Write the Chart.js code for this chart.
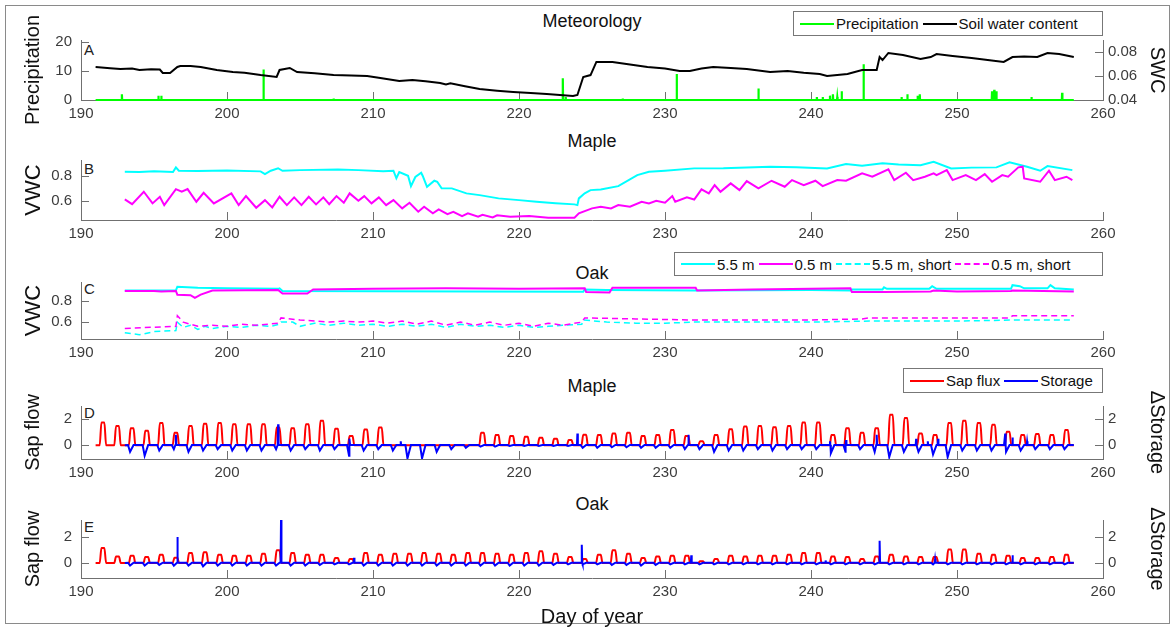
<!DOCTYPE html>
<html>
<head>
<meta charset="utf-8">
<script src="https://cdn.jsdelivr.net/npm/chart.js@4.4.1/dist/chart.umd.min.js"></script>
<style>
  body { margin: 0; background: #fff; width: 1174px; height: 627px; overflow: hidden; position: relative;
         font-family: "Liberation Sans", Arial, sans-serif; }
  #frame { position: absolute; left: 5px; top: 5px; width: 1163px; height: 617px; border: 1px solid #8a8a8a; }
  canvas { position: absolute; left: 0; }
  .ttl { position: absolute; font-size: 18px; color: #111; transform: translateX(-50%); white-space: nowrap; }
  .tag { position: absolute; font-size: 15px; color: #222; }
  .legend { position: absolute; border: 1px solid #777; background: #fff; font-size: 15px; color: #111;
            display: flex; align-items: center; box-sizing: border-box; padding: 0 6px 0 2px; white-space: nowrap; }
  .sw { display: inline-block; width: 34px; height: 0; border-top: 2px solid; margin: 0 2px 0 4px; }
  .sw.dash { border-top-style: dashed; }
</style>
</head>
<body>
<div id="frame"></div>

<div class="ttl" style="left:592px;top:11px">Meteorology</div>
<div class="ttl" style="left:592px;top:131px">Maple</div>
<div class="ttl" style="left:592px;top:263px">Oak</div>
<div class="ttl" style="left:592px;top:376px">Maple</div>
<div class="ttl" style="left:592px;top:494px">Oak</div>

<div class="tag" style="left:84px;top:41px">A</div>
<div class="tag" style="left:84px;top:160px">B</div>
<div class="tag" style="left:84px;top:280px">C</div>
<div class="tag" style="left:84px;top:404px">D</div>
<div class="tag" style="left:84px;top:518px">E</div>

<div class="legend" style="left:793px;top:11px;width:310px;height:25px">
  <span class="sw" style="border-color:#00ff00"></span>Precipitation
  <span class="sw" style="border-color:#000"></span>Soil water content
</div>
<div class="legend" style="left:674px;top:252px;width:429px;height:24px">
  <span class="sw" style="border-color:#00ffff"></span>5.5 m
  <span class="sw" style="border-color:#ff00ff"></span>0.5 m
  <span class="sw dash" style="border-color:#00ffff"></span>5.5 m, short
  <span class="sw dash" style="border-color:#ff00ff"></span>0.5 m, short
</div>
<div class="legend" style="left:903px;top:368px;width:200px;height:25px">
  <span class="sw" style="border-color:#ff0000"></span>Sap flux
  <span class="sw" style="border-color:#0000ff"></span>Storage
</div>

<canvas id="cA"></canvas>
<canvas id="cB"></canvas>
<canvas id="cC"></canvas>
<canvas id="cD"></canvas>
<canvas id="cE"></canvas>

<script>
// ---- A: meteorology ----
const precipDays   = [192.8, 195.3, 195.5, 202.5, 206.2, 207.3, 223.0, 223.2, 227.1, 230.8, 236.4, 240.4, 240.8, 241.3, 241.5, 241.8, 242.1, 243.6, 246.2, 246.6, 247.3, 247.45, 252.4, 252.55, 252.7, 255.1, 257.2];
const precipValues = [2, 1.5, 1.5, 10.5, 0.3, 0.5, 7.5, 1, 0.5, 9, 4, 1, 1, 1.5, 2, 1, 3, 12.3, 1, 2, 1.5, 2, 3, 3.5, 3, 1, 2.5];

const swcDays   = [191, 192.0, 192.7, 193.5, 194, 194.8, 195.4, 195.6, 196.1, 196.6, 196.8, 197.5, 198.2, 199.3, 200.4, 201.2, 202.3, 203.4, 203.6, 204.3, 204.8, 206.0, 207.3, 208.5, 209.6, 210.5, 211.8, 212.7, 213.6, 214.6, 215, 215.3, 216.3, 217.3, 218.5, 219.6, 220.8, 221.9, 223.7, 224.0, 224.4, 224.9, 225.3, 226.4, 227.6, 228.8, 230.0, 231, 231.7, 232.5, 233.3, 234.5, 235.6, 237.2, 238.4, 239.5, 240.6, 241.1, 242.5, 243.5, 244.5, 244.7, 244.9, 245.3, 246.3, 247.5, 248.2, 248.6, 249.7, 251.0, 252.1, 253.2, 253.8, 254.6, 255.5, 256.2, 257.0, 258];
const swcValues = [0.0675, 0.0665, 0.0658, 0.0662, 0.065, 0.0656, 0.0654, 0.0625, 0.0625, 0.0675, 0.0683, 0.0683, 0.0675, 0.065, 0.0633, 0.0628, 0.0608, 0.0592, 0.065, 0.0667, 0.0633, 0.0622, 0.0608, 0.0604, 0.06, 0.0583, 0.0558, 0.0567, 0.0556, 0.0542, 0.053, 0.054, 0.0515, 0.0492, 0.0478, 0.0467, 0.0458, 0.045, 0.0433, 0.0442, 0.0592, 0.0608, 0.0717, 0.0717, 0.0696, 0.0675, 0.0662, 0.0642, 0.0642, 0.0662, 0.0675, 0.0667, 0.0658, 0.0633, 0.0642, 0.0628, 0.0617, 0.06, 0.0617, 0.065, 0.065, 0.0758, 0.0733, 0.0792, 0.0775, 0.0742, 0.0758, 0.0783, 0.0767, 0.075, 0.0733, 0.0717, 0.0758, 0.0762, 0.0758, 0.0792, 0.0783, 0.0758];

// ---- B: maple VWC ----
const mapleDeepDays = [193.0, 194, 195, 196.3, 196.5, 196.7, 198, 200, 202.3, 202.6, 203.0, 203.5, 203.8, 205, 207.6, 209, 210.7, 211.4, 211.6, 211.8, 212.4, 212.6, 212.9, 213.3, 213.4, 213.7, 214.2, 214.4, 214.7, 215.4, 216.4, 217.3, 218.6, 220, 221.2, 222.5, 223.8, 224.0, 224.1, 224.5, 224.9, 225.6, 226.8, 228.1, 228.9, 230, 232, 234, 237.2, 239, 241.1, 242.4, 243.5, 244.9, 246, 247.5, 248.4, 249.6, 251, 252.7, 253.6, 254.8, 255.7, 256.2, 257.9];
const mapleDeepVwc  = [0.832, 0.83, 0.835, 0.83, 0.867, 0.84, 0.838, 0.842, 0.835, 0.813, 0.84, 0.86, 0.84, 0.845, 0.85, 0.845, 0.837, 0.84, 0.78, 0.83, 0.8, 0.717, 0.79, 0.824, 0.8, 0.712, 0.76, 0.752, 0.70, 0.699, 0.659, 0.645, 0.619, 0.605, 0.592, 0.58, 0.571, 0.565, 0.619, 0.66, 0.685, 0.69, 0.717, 0.805, 0.832, 0.84, 0.859, 0.86, 0.872, 0.868, 0.859, 0.893, 0.88, 0.899, 0.89, 0.885, 0.912, 0.859, 0.865, 0.867, 0.907, 0.872, 0.84, 0.877, 0.845];
const mapleShallowDays = [193.0, 193.5, 194.3, 194.9, 195.4, 195.7, 196.5, 196.9, 197.3, 197.9, 198.4, 199.1, 200.3, 200.8, 201.3, 202.0, 202.6, 203.1, 203.6, 204.1, 204.6, 205.1, 205.6, 206.1, 206.6, 207.0, 207.5, 208.0, 208.4, 209.0, 209.4, 209.9, 210.4, 210.9, 211.4, 212.0, 212.5, 213.1, 213.5, 214.1, 214.5, 215.1, 215.5, 216.1, 216.5, 217.2, 217.5, 218.2, 218.5, 219.4, 220.7, 222.0, 223.8, 224.1, 225.0, 225.6, 226.3, 226.8, 227.6, 228.4, 228.9, 229.4, 230.0, 230.5, 230.7, 231.5, 232.0, 232.5, 233.0, 233.4, 233.8, 234.5, 235.1, 235.6, 236.4, 237.3, 238.2, 238.7, 239.5, 240.3, 240.8, 241.8, 242.4, 243.5, 244.2, 245.3, 245.7, 246.5, 247.0, 247.8, 248.4, 248.6, 249.3, 249.7, 250.6, 251.3, 251.9, 252.4, 253.1, 253.5, 254.2, 254.5, 254.6, 255.7, 256.3, 256.7, 257.5, 257.9];
const mapleShallowVwc  = [0.611, 0.573, 0.672, 0.579, 0.632, 0.565, 0.693, 0.672, 0.693, 0.592, 0.664, 0.579, 0.659, 0.565, 0.637, 0.544, 0.605, 0.547, 0.632, 0.565, 0.627, 0.565, 0.632, 0.571, 0.627, 0.573, 0.637, 0.584, 0.659, 0.6, 0.637, 0.579, 0.627, 0.565, 0.605, 0.539, 0.584, 0.512, 0.552, 0.499, 0.531, 0.493, 0.512, 0.477, 0.499, 0.472, 0.488, 0.467, 0.483, 0.472, 0.477, 0.464, 0.464, 0.499, 0.539, 0.552, 0.539, 0.565, 0.552, 0.592, 0.579, 0.6, 0.584, 0.637, 0.592, 0.627, 0.61, 0.691, 0.659, 0.725, 0.672, 0.739, 0.685, 0.757, 0.699, 0.76, 0.712, 0.765, 0.725, 0.76, 0.717, 0.765, 0.76, 0.819, 0.792, 0.851, 0.765, 0.824, 0.765, 0.792, 0.819, 0.805, 0.845, 0.765, 0.805, 0.765, 0.813, 0.752, 0.805, 0.792, 0.867, 0.872, 0.779, 0.752, 0.84, 0.765, 0.792, 0.765];

// ---- C: oak VWC ----
const oakDeepDays = [193, 196.5, 196.6, 198, 200, 203.5, 203.6, 203.8, 210, 217, 224.4, 224.5, 226, 232, 240, 242.7, 242.8, 244.9, 245.0, 245.2, 248.1, 248.3, 248.6, 253.7, 253.8, 254.3, 254.6, 256.2, 256.4, 256.7, 258];
const oakDeepVwc  = [0.9, 0.9, 0.935, 0.925, 0.92, 0.915, 0.92, 0.895, 0.893, 0.89, 0.888, 0.91, 0.905, 0.9, 0.905, 0.9, 0.91, 0.91, 0.93, 0.915, 0.915, 0.94, 0.915, 0.915, 0.95, 0.94, 0.92, 0.92, 0.95, 0.92, 0.91];
const oakShallowDays = [193, 195, 195.5, 196.5, 196.6, 197.5, 197.8, 198.2, 199, 203.5, 203.8, 205.5, 205.9, 210, 215, 220, 224.5, 224.6, 226.2, 226.4, 232.1, 232.2, 236, 240, 242.7, 242.8, 245, 248.2, 248.4, 250, 253.7, 253.8, 258];
const oakShallowVwc  = [0.895, 0.895, 0.89, 0.895, 0.86, 0.855, 0.83, 0.86, 0.9, 0.905, 0.87, 0.87, 0.91, 0.915, 0.92, 0.915, 0.92, 0.885, 0.88, 0.925, 0.925, 0.9, 0.91, 0.915, 0.92, 0.885, 0.885, 0.89, 0.9, 0.89, 0.895, 0.9, 0.89];
const oakDeepShortDays = [193, 194, 195, 196.5, 196.6, 197, 197.5, 198, 198.5, 199, 200, 201, 202, 203, 203.6, 203.7, 204.5, 205, 206, 207, 208, 209, 210, 211, 212, 213, 214, 215, 216, 217, 218, 219, 220, 221, 222, 223, 224.3, 224.4, 226, 228, 230, 232, 236, 240, 244, 246, 250, 254, 258];
const oakDeepShortVwc  = [0.5, 0.48, 0.51, 0.52, 0.6, 0.55, 0.57, 0.53, 0.56, 0.54, 0.56, 0.55, 0.57, 0.56, 0.58, 0.6, 0.6, 0.56, 0.59, 0.57, 0.59, 0.57, 0.58, 0.56, 0.58, 0.56, 0.58, 0.55, 0.58, 0.56, 0.57, 0.55, 0.57, 0.55, 0.56, 0.57, 0.58, 0.62, 0.6, 0.59, 0.59, 0.6, 0.6, 0.6, 0.61, 0.61, 0.61, 0.62, 0.62];
const oakShallowShortDays = [193, 196.5, 196.6, 197, 198, 199, 200, 201, 202, 203.5, 203.7, 205, 206, 207, 208, 209, 210, 211, 212, 213, 214, 215, 216, 217, 218, 219, 220, 221, 222, 223, 224.3, 224.5, 228, 232, 236, 240, 243.5, 244, 248, 253.6, 253.8, 258];
const oakShallowShortVwc  = [0.54, 0.56, 0.66, 0.6, 0.56, 0.57, 0.56, 0.58, 0.57, 0.59, 0.64, 0.62, 0.61, 0.6, 0.61, 0.6, 0.61, 0.59, 0.61, 0.58, 0.61, 0.57, 0.6, 0.57, 0.6, 0.57, 0.59, 0.56, 0.59, 0.57, 0.6, 0.64, 0.63, 0.62, 0.62, 0.62, 0.63, 0.64, 0.64, 0.64, 0.66, 0.66];

// ---- D, E: sap flux (daily midday peaks) and storage ----
const sapDays = [191, 192, 193, 194, 195, 196, 197, 198, 199, 200, 201, 202, 203, 204, 205, 206, 207, 208, 209, 210, 211, 212, 213, 214, 215, 216, 217, 218, 219, 220, 221, 222, 223, 224, 225, 226, 227, 228, 229, 230, 231, 232, 233, 234, 235, 236, 237, 238, 239, 240, 241, 242, 243, 244, 245, 246, 247, 248, 249, 250, 251, 252, 253, 254, 255, 256, 257];
const mapleSapPeak = [1.74, 1.48, 1.3, 1.1, 1.7, 0.96, 1.48, 1.64, 1.7, 1.6, 1.6, 1.6, 1.35, 1.3, 1.6, 1.87, 1.27, 0.7, 1.2, 1.35, 0, 0, 0, 0, 0, 0, 0.96, 0.78, 0.7, 0.65, 0.57, 0.5, 0.4, 0.8, 0.78, 0.9, 0.96, 0.7, 0.78, 1.17, 0.7, 0.3, 0.78, 1.22, 1.43, 1.48, 1.38, 1.48, 1.74, 1.74, 0.78, 1.3, 0.96, 1.3, 2.34, 2.08, 0.9, 0.78, 1.7, 1.87, 1.7, 1.56, 1.04, 0.78, 0.86, 0.78, 1.17];
const oakSapPeak   = [1.15, 0.5, 0.56, 0.46, 0.64, 0.4, 0.77, 0.82, 0.64, 0.56, 0.56, 0.72, 0.97, 0.77, 0.64, 0.64, 0.38, 0.3, 0.77, 0.64, 0.72, 0.72, 0.77, 0.72, 0.64, 0.77, 0.77, 0.72, 0.64, 0.77, 0.9, 0.72, 0.46, 0.3, 0.64, 0.97, 0.72, 0.38, 0.5, 0.56, 0.56, 0.13, 0.3, 0.56, 0.5, 0.56, 0.56, 0.64, 0.77, 0.77, 0.5, 0.46, 0.3, 0.5, 0.64, 0.5, 0.46, 0.46, 1.03, 1.03, 0.72, 0.64, 0.56, 0.38, 0.38, 0.46, 0.64];

const storageDays = [193, 194, 195, 196, 197, 198, 199, 200, 201, 202, 203, 204, 205, 206, 207, 208, 209, 210, 211, 212, 213, 214, 215, 216, 217, 218, 219, 220, 221, 222, 223, 224, 225, 226, 227, 228, 229, 230, 231, 232, 233, 234, 235, 236, 237, 238, 239, 240, 241, 242, 243, 244, 245, 246, 247, 248, 249, 250, 251, 252, 253, 254, 255, 256, 257];
const mapleStorageDip = [-0.5, -0.8, -0.4, -0.3, -0.5, -0.4, -0.3, -0.4, -0.4, -0.4, -0.3, -0.4, -0.3, -0.4, -0.3, -0.8, -0.4, -0.3, -0.4, -1.0, -1.0, -0.5, -0.3, -0.2, -0.1, -0.1, -0.05, -0.05, -0.05, -0.05, -0.05, -0.2, -0.2, -0.15, -0.15, -0.2, -0.2, -0.2, -0.3, -0.3, -0.5, -0.4, -0.4, -0.3, -0.4, -0.3, -0.3, -0.3, -0.6, -0.5, -0.3, -0.5, -0.9, -0.5, -0.5, -0.7, -0.9, -0.4, -0.4, -0.4, -0.5, -0.4, -0.3, -0.3, -0.3];
const oakStorageDip   = [-0.2, -0.2, -0.15, -0.2, -0.2, -0.25, -0.2, -0.2, -0.2, -0.2, -0.2, -0.2, -0.2, -0.15, -0.1, -0.1, -0.2, -0.2, -0.2, -0.2, -0.2, -0.2, -0.2, -0.2, -0.2, -0.2, -0.2, -0.2, -0.2, -0.15, -0.1, -0.1, -0.1, -0.15, -0.15, -0.2, -0.15, -0.1, -0.1, -0.1, -0.1, -0.1, -0.1, -0.1, -0.1, -0.1, -0.1, -0.1, -0.1, -0.1, -0.1, -0.1, -0.1, -0.1, -0.1, -0.1, -0.1, -0.1, -0.1, -0.1, -0.1, -0.1, -0.1, -0.1, -0.1];
const mapleSpikeDays = [196.5, 203.5, 208.4, 211.9, 224.0, 231.6, 241.3, 242.4, 244.5, 247.2, 248.0, 248.7, 253.3, 253.8, 254.8];
const mapleSpikes    = [0.8, 1.6, 0.5, 0.3, 0.9, 0.8, 0.3, 0.4, 0.8, 0.5, 0.3, 0.5, 0.9, 0.6, 0.3];
const oakSpikeDays = [196.6, 203.7, 208.7, 224.3, 231.8, 241.0, 244.7, 248.5, 253.8];
const oakSpikes    = [2.0, 3.3, 0.4, 1.4, 0.6, 0.2, 1.7, 0.3, 0.6];
const nightStorage = 0.02;

const xTickValues = [190, 200, 210, 220, 230, 240, 250, 260];

Chart.defaults.font.family = '"Liberation Sans", Arial, sans-serif';
Chart.defaults.color = '#3c3c3c';

function pts(xs, ys) { return xs.map((x, i) => ({ x: x, y: ys[i] })); }

function precipPts() {
  const out = [{ x: 191, y: 0 }];
  precipDays.forEach((d, i) => out.push({ x: d - 0.02, y: 0 }, { x: d, y: precipValues[i] }, { x: d + 0.02, y: 0 }));
  out.push({ x: 258, y: 0 });
  return out;
}

// one pulse per day: zero at night, plateau at the read peak around midday
function sapPts(peaks) {
  const out = [{ x: sapDays[0], y: 0 }];
  sapDays.forEach((d, i) => out.push({ x: d + 0.28, y: 0 }, { x: d + 0.4, y: peaks[i] }, { x: d + 0.6, y: peaks[i] }, { x: d + 0.72, y: 0 }));
  out.push({ x: 258, y: 0 });
  return out;
}

function storagePts(dips, spikeDays, spikes) {
  const out = [{ x: storageDays[0], y: 0 }];
  storageDays.forEach((d, i) => out.push({ x: d + 0.22, y: nightStorage }, { x: d + 0.36, y: dips[i] }, { x: d + 0.6, y: nightStorage }));
  spikeDays.forEach((d, i) => out.push({ x: d - 0.03, y: nightStorage }, { x: d, y: spikes[i] }, { x: d + 0.03, y: nightStorage }));
  out.push({ x: 258, y: nightStorage });
  return out.sort((a, b) => a.x - b.x);
}

// MATLAB-style tick marks pointing into the plot
const inwardTicks = {
  id: 'inwardTicks',
  beforeDatasetsDraw(chart) {
    const { ctx, chartArea: a } = chart;
    ctx.save();
    ctx.strokeStyle = '#707070';
    ctx.lineWidth = 1;
    Object.values(chart.scales).forEach(s => {
      s.ticks.forEach(t => {
        const p = Math.round(s.getPixelForValue(t.value)) + 0.5;
        ctx.beginPath();
        if (s.axis === 'x') { ctx.moveTo(p, a.bottom); ctx.lineTo(p, a.bottom - 8); }
        else if (s.position === 'left') { ctx.moveTo(a.left, p); ctx.lineTo(a.left + 8, p); }
        else { ctx.moveTo(a.right, p); ctx.lineTo(a.right - 8, p); }
        ctx.stroke();
      });
    });
    ctx.restore();
  }
};

function xAxis(height, title) {
  return {
    type: 'linear', min: 190, max: 260,
    afterBuildTicks: s => { s.ticks = xTickValues.map(v => ({ value: v })); },
    ticks: { font: { size: 15 }, padding: 5, maxRotation: 0, color: '#3c3c3c' },
    grid: { display: false, drawTicks: false },
    border: { color: '#707070', width: 1 },
    title: { display: !!title, text: title || '', font: { size: 20 }, color: '#111', padding: 0 },
    afterFit: s => { s.height = height; }
  };
}

function yAxis(pos, min, max, ticks, title, titleSize) {
  return {
    type: 'linear', position: pos, min: min, max: max,
    afterBuildTicks: s => { s.ticks = ticks.map(v => ({ value: v })); },
    ticks: { font: { size: 15 }, padding: pos === 'left' ? 9 : 5, color: '#3c3c3c', callback: v => String(v) },
    grid: { display: false, drawTicks: false },
    border: { color: '#707070', width: 1 },
    title: { display: true, text: title, font: { size: titleSize }, color: '#111',
             padding: { top: pos === 'left' ? 21 : 5, bottom: 0 } },
    afterFit: s => { s.width = pos === 'left' ? 81 : 71; }
  };
}

// lower "order" is painted later, i.e. on top
function line(data, color, axis, order, extra) {
  return Object.assign({ data: data, borderColor: color, borderWidth: 2, pointRadius: 0, fill: false,
                         tension: 0, yAxisID: axis, order: order }, extra || {});
}

function panel(id, top, bottom, padTop, xH, datasets, scales, hasRight) {
  const c = document.getElementById(id);
  c.width = 1174;
  c.height = padTop + (bottom - top) + xH;
  c.style.top = (top - padTop) + 'px';
  return new Chart(c, {
    type: 'line',
    data: { datasets: datasets },
    options: {
      responsive: false, animation: false, devicePixelRatio: 1, events: [],
      layout: { padding: { top: padTop, left: 0, right: hasRight ? 0 : 71, bottom: 0 } },
      plugins: { legend: { display: false }, tooltip: { enabled: false } },
      scales: scales
    },
    plugins: [inwardTicks]
  });
}

// A
panel('cA', 40, 100, 40, 30, [
  line(precipPts(), '#00ff00', 'y', 2, { clip: false, borderWidth: 2.2 }),
  line(pts(swcDays, swcValues), '#000000', 'y2', 1)
], {
  x: xAxis(30),
  y: yAxis('left', 0, 20.7, [0, 10, 20], 'Precipitation', 20),
  y2: yAxis('right', 0.04, 0.09, [0.04, 0.06, 0.08], 'SWC', 20)
}, true);

// B
panel('cB', 160, 220, 30, 30, [
  line(pts(mapleDeepDays, mapleDeepVwc), '#00ffff', 'y', 2),
  line(pts(mapleShallowDays, mapleShallowVwc), '#ff00ff', 'y', 1)
], {
  x: xAxis(30),
  y: yAxis('left', 0.446, 0.926, [0.6, 0.8], 'VWC', 22)
}, false);

// C
panel('cC', 282, 339, 30, 30, [
  line(pts(oakDeepDays, oakDeepVwc), '#00ffff', 'y', 4),
  line(pts(oakShallowDays, oakShallowVwc), '#ff00ff', 'y', 3),
  line(pts(oakDeepShortDays, oakDeepShortVwc), '#00ffff', 'y', 2, { borderDash: [6, 4], borderWidth: 1.5 }),
  line(pts(oakShallowShortDays, oakShallowShortVwc), '#ff00ff', 'y', 1, { borderDash: [6, 4], borderWidth: 1.5 })
], {
  x: xAxis(30),
  y: yAxis('left', 0.44, 0.98, [0.6, 0.8], 'VWC', 22)
}, false);

// D
panel('cD', 406, 459, 30, 30, [
  line(sapPts(mapleSapPeak), '#ff0000', 'y', 2, { cubicInterpolationMode: 'monotone' }),
  line(storagePts(mapleStorageDip, mapleSpikeDays, mapleSpikes), '#0000ff', 'y2', 1)
], {
  x: xAxis(30),
  y: yAxis('left', -1.05, 3.0, [0, 2], 'Sap flow', 20),
  y2: yAxis('right', -1.05, 3.0, [0, 2], '\u0394Storage', 20)
}, true);

// E
panel('cE', 520, 578, 30, 51, [
  line(sapPts(oakSapPeak), '#ff0000', 'y', 2, { cubicInterpolationMode: 'monotone' }),
  line(storagePts(oakStorageDip, oakSpikeDays, oakSpikes), '#0000ff', 'y2', 1)
], {
  x: xAxis(51, 'Day of year'),
  y: yAxis('left', -1.15, 3.3, [0, 2], 'Sap flow', 20),
  y2: yAxis('right', -1.15, 3.3, [0, 2], '\u0394Storage', 20)
}, true);
</script>
</body>
</html>
